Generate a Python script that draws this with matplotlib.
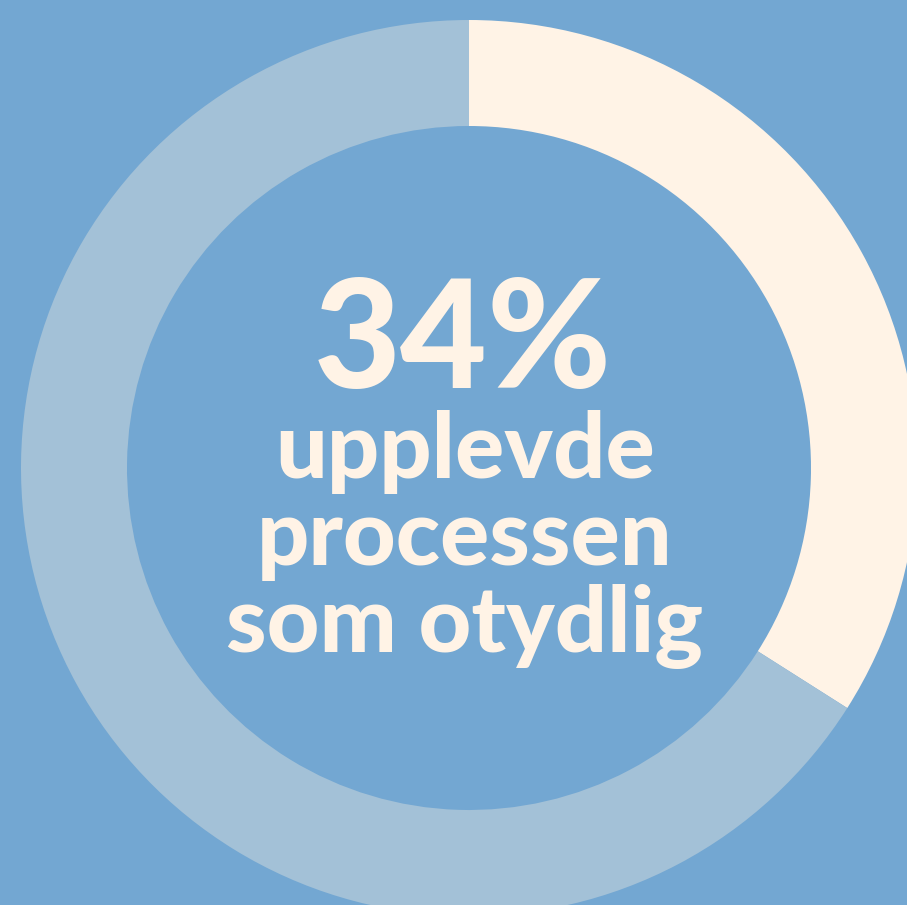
import matplotlib.pyplot as plt

# share of respondents
SHARE = 34
values = [SHARE, 100 - SHARE]
colors = ["#FFF3E6", "#A3C1D7"]
BG = "#73A7D2"
TXT = "#FFF3E6"
big_label = f"{SHARE}%"
sub_lines = ["upplevde", "processen", "som otydlig"]

W, H = 907, 905
fig = plt.figure(figsize=(W / 100, H / 100), dpi=100, facecolor=BG)
ax = fig.add_axes([0, 0, 1, 1])
ax.set_facecolor(BG)

# pixel coords, y measured from the bottom
ax.pie(values, colors=colors, startangle=90, counterclock=False,
       center=(469, H - 468), radius=448,
       wedgeprops=dict(width=106, linewidth=0))

ax.set_xlim(0, W)
ax.set_ylim(0, H)
ax.set_aspect("equal")
ax.axis("off")

font = ["Lato", "DejaVu Sans"]
ax.text(463, H - 388, big_label, ha="center", va="baseline", fontsize=108,
        fontweight="black", color=TXT, family=font)
for i, line in enumerate(sub_lines):
    ax.text(465, H - (478 + i * 87), line, ha="center", va="baseline", fontsize=66,
            fontweight="black", color=TXT, family=font)

fig.savefig("out.png", dpi=100, facecolor=BG)
